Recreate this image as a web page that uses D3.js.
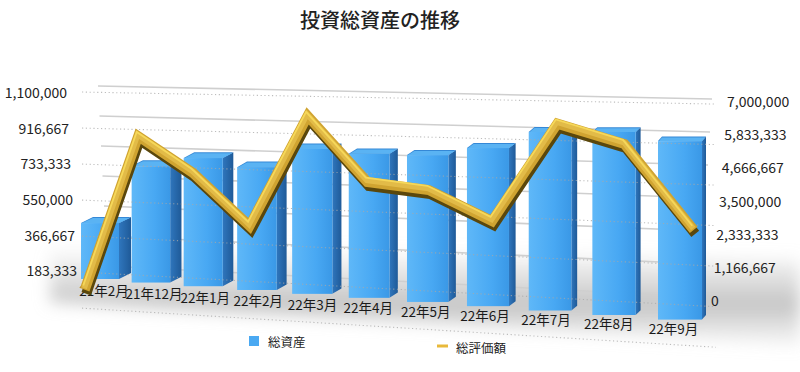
<!DOCTYPE html>
<html>
<head>
<meta charset="utf-8">
<script src="https://cdn.jsdelivr.net/npm/d3@7"></script>
<style>
  html, body { margin: 0; padding: 0; background: #ffffff; }
  svg { display: block; }
  text { font-family: "Noto Sans CJK JP", "Noto Sans", sans-serif; }
</style>
</head>
<body>
<svg id="chart" width="800" height="372"></svg>
<script>
// ---------------- data ----------------
const title = "投資総資産の推移";
const categories = ["21年2月","21年12月","22年1月","22年2月","22年3月","22年4月","22年5月","22年6月","22年7月","22年8月","22年9月"];
const totalAssets = [342000, 702000, 762000, 720000, 837000, 820000, 824000, 874000, 972000, 981000, 942000];
const totalValuation = [600000, 5620000, 4500000, 2900000, 6390000, 4410000, 4230000, 3370000, 6330000, 5780000, 3350000];
const leftTickValues = [183333, 366667, 550000, 733333, 916667, 1100000];
const leftTickLabels = ["183,333","366,667","550,000","733,333","916,667","1,100,000"];
const rightTickValues = [0, 1166667, 2333333, 3500000, 4666667, 5833333, 7000000];
const rightTickLabels = ["0","1,166,667","2,333,333","3,500,000","4,666,667","5,833,333","7,000,000"];
const seriesNames = ["総資産", "総評価額"];
const leftMax = 1100000, rightMax = 7000000;

// ---------------- perspective helpers ----------------
const svg = d3.select("#chart");
const defs = svg.append("defs");

const uScale = d3.scalePoint().domain(categories).range([0, 1]);
const persp = t => t / (t + (1 - t) * 1.155);
const xBar = d3.scaleLinear().domain([0, 1]).range([100, 680]);
const depth = d3.scaleLinear().domain([100, 680]).range([1, 1.158]);
const baseY = d3.scaleLinear().domain([0, 1000]).range([272, 342]);
const hBar = d3.scaleLinear().domain([0, leftMax]).range([0, 180]);
const barW = 38;
const sideW = d3.scaleLinear().domain([100, 680]).range([12, 4]);
const topD = d3.scaleLinear().domain([100, 680]).range([6, 4.5]);

// front plane (left axis / line)
const frontTop = d3.scaleLinear().domain([80, 712]).range([92, 104]);
const frontBot = d3.scaleLinear().domain([80, 712]).range([308, 347]);
const fracL = d3.scaleLinear().domain([0, leftMax]).range([0, 1]);
const fracR = d3.scaleLinear().domain([0, rightMax]).range([0, 1]);
// back wall
const backL = d3.scaleLinear().domain([0, leftMax]).range([266, 86]);
const backR = d3.scaleLinear().domain([0, leftMax]).range([297, 99]);

const cx = c => xBar(persp(uScale(c)));
const lineX = c => 405 + (cx(c) - 405) * 1.05;
const lineY = (v, x) => frontBot(x) - fracR(v) * (frontBot(x) - frontTop(x));

// ---------------- gradients / filters ----------------
const fg = defs.append("linearGradient").attr("id", "front").attr("x1", 0).attr("x2", 1).attr("y1", 0).attr("y2", 0);
fg.append("stop").attr("offset", "0%").attr("stop-color", "#5fb8f8");
fg.append("stop").attr("offset", "60%").attr("stop-color", "#48a8f3");
fg.append("stop").attr("offset", "100%").attr("stop-color", "#3a98e6");
const sg = defs.append("linearGradient").attr("id", "side").attr("x1", 0).attr("x2", 1).attr("y1", 0).attr("y2", 0);
sg.append("stop").attr("offset", "0%").attr("stop-color", "#2f76bd");
sg.append("stop").attr("offset", "100%").attr("stop-color", "#1f5a98");
const shg = defs.append("linearGradient").attr("id", "shadowGrad").attr("x1", 0).attr("x2", 0).attr("y1", 0).attr("y2", 1);
shg.append("stop").attr("offset", "0%").attr("stop-color", "#c8c8c8").attr("stop-opacity", 0);
shg.append("stop").attr("offset", "60%").attr("stop-color", "#bdbdbd").attr("stop-opacity", 0.9);
shg.append("stop").attr("offset", "100%").attr("stop-color", "#d0d0d0").attr("stop-opacity", 0.2);
defs.append("filter").attr("id", "blur").attr("x", "-20%").attr("y", "-50%").attr("width", "140%").attr("height", "200%")
  .append("feGaussianBlur").attr("stdDeviation", 8);

// ---------------- floor shadow ----------------
svg.append("path")
  .attr("d", "M50,245 L800,260 L800,345 L50,302 Z")
  .attr("fill", "url(#shadowGrad)")
  .attr("filter", "url(#blur)");

// ---------------- back wall gridlines ----------------
svg.append("g").selectAll("line").data(d3.range(7).map(k => leftMax * k / 6)).join("line")
  .attr("x1", (d, i) => 98 + (6 - i) * 1.5).attr("y1", d => backL(d))
  .attr("x2", (d, i) => 712 - (6 - i) * 2).attr("y2", d => backR(d))
  .attr("stroke", "#cfcfcf").attr("stroke-width", 1.6);

// ---------------- bars ----------------
const bars = svg.append("g");
categories.forEach((c, i) => {
  const x = cx(c);
  const s = depth(x);
  const w = barW * s;
  const x0 = x - w / 2, x1 = x + w / 2;
  const yb = baseY(x);
  const yt = yb - hBar(totalAssets[i]) * s;
  const sw = sideW(x), td = topD(x);
  bars.append("path")
    .attr("d", `M${x1},${yt} L${x1 + sw},${yt - td} L${x1 + sw},${yb - td} L${x1},${yb} Z`)
    .attr("fill", "url(#side)");
  bars.append("rect").attr("x", x0).attr("y", yt).attr("width", w).attr("height", yb - yt)
    .attr("fill", "url(#front)");
  bars.append("path")
    .attr("d", `M${x0},${yt} L${x1},${yt} L${x1 + sw},${yt - td} L${x0 + sw},${yt - td} Z`)
    .attr("fill", "#3588d6");
  bars.append("path")
    .attr("d", `M${x0 + 1},${yt} L${x1},${yt} L${x1 + sw - 1},${yt - td + 1} L${x0 + sw},${yt - td + 1} Z`)
    .attr("fill", "#5ab3f3");
});

// ---------------- front dotted gridlines ----------------
svg.append("g").selectAll("line").data(d3.range(7).map(k => leftMax * k / 6)).join("line")
  .attr("x1", 82).attr("y1", d => frontBot(82) - fracL(d) * (frontBot(82) - frontTop(82)))
  .attr("x2", 716).attr("y2", d => frontBot(716) - fracL(d) * (frontBot(716) - frontTop(716)))
  .attr("stroke", "#a8a8a8").attr("stroke-width", 1.1).attr("stroke-dasharray", "1.2,2.6")
  .attr("opacity", 0.75);

// ---------------- category labels ----------------
svg.append("g").selectAll("text").data(categories).join("text")
  .attr("x", c => cx(c) + 4 - 0.018 * (cx(c) - 100))
  .attr("y", c => 290 + (cx(c) - 100) * 0.065)
  .attr("text-anchor", "middle").attr("dominant-baseline", "central")
  .attr("font-size", 13.5).attr("fill", "#1a1a1a")
  .text(c => c);

// ---------------- gold ribbon line ----------------
const pts = categories.map((c, i) => { const x = lineX(c); return [x, lineY(totalValuation[i], x)]; });
const lineGen = d3.line();
const rib = svg.append("g").attr("fill", "none").attr("stroke-linejoin", "miter").attr("stroke-miterlimit", 10).attr("stroke-linecap", "butt");
rib.append("path").attr("d", lineGen(pts)).attr("transform", "translate(1.5,4)")
  .attr("stroke", "#5a470c").attr("stroke-width", 10);
rib.append("path").attr("d", lineGen(pts))
  .attr("stroke", "#d0a431").attr("stroke-width", 10);
rib.append("path").attr("d", lineGen(pts)).attr("transform", "translate(-0.5,-1.5)")
  .attr("stroke", "#e2bb48").attr("stroke-width", 5.5);
rib.append("path").attr("d", lineGen(pts)).attr("transform", "translate(-1.5,-4.2)")
  .attr("stroke", "#f6d85a").attr("stroke-width", 1.8);

// ---------------- axis labels ----------------
const yLeftLab = d3.scaleLinear().domain([0, leftMax]).range([306, 92]);
const xLeftLab = d3.scaleLinear().domain([0, leftMax]).range([79, 67]);
svg.append("g").selectAll("text").data(leftTickValues).join("text")
  .attr("x", d => xLeftLab(d)).attr("y", d => yLeftLab(d))
  .attr("text-anchor", "end").attr("dominant-baseline", "central")
  .attr("font-size", 14).attr("fill", "#222")
  .text((d, i) => leftTickLabels[i]);

const yRightLab = d3.scaleLinear().domain([0, rightMax]).range([300, 101]);
const xRightLab = d3.scaleLinear().domain([0, rightMax]).range([711, 727]);
svg.append("g").selectAll("text").data(rightTickValues).join("text")
  .attr("x", d => xRightLab(d)).attr("y", d => yRightLab(d))
  .attr("text-anchor", "start").attr("dominant-baseline", "central")
  .attr("font-size", 14).attr("fill", "#222")
  .text((d, i) => rightTickLabels[i]);

// ---------------- title ----------------
svg.append("text").attr("x", 380).attr("y", 19)
  .attr("text-anchor", "middle").attr("dominant-baseline", "central")
  .attr("font-size", 20).attr("font-weight", 500).attr("fill", "#222")
  .text(title);

// ---------------- legend ----------------
const lg = svg.append("g");
lg.append("rect").attr("x", 249).attr("y", 336).attr("width", 10).attr("height", 10).attr("fill", "#4aa9f2");
lg.append("text").attr("x", 268).attr("y", 341).attr("dominant-baseline", "central")
  .attr("font-size", 12.5).attr("fill", "#222").text(seriesNames[0]);
lg.append("line").attr("x1", 437).attr("x2", 448).attr("y1", 346).attr("y2", 346)
  .attr("stroke", "#e8b93a").attr("stroke-width", 3);
lg.append("text").attr("x", 456).attr("y", 347).attr("dominant-baseline", "central")
  .attr("font-size", 12.5).attr("fill", "#222").text(seriesNames[1]);
</script>
</body>
</html>
